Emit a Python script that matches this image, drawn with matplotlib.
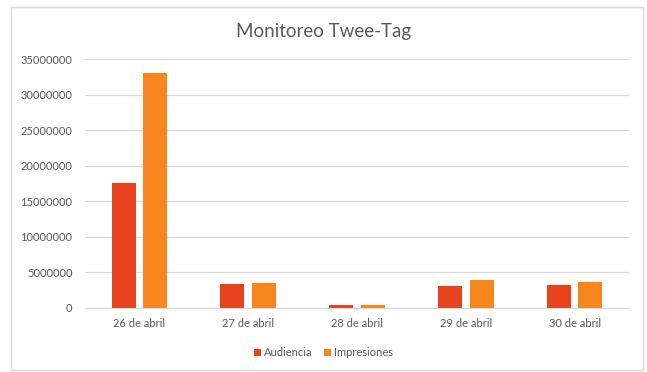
import numpy as np
import matplotlib.pyplot as plt
from matplotlib.patches import Rectangle

plt.rcParams['font.family'] = ['Lato', 'DejaVu Sans']

# data
dias = ['26 de abril', '27 de abril', '28 de abril', '29 de abril', '30 de abril']
audiencia = [17600000, 3400000, 400000, 3100000, 3200000]
impresiones = [33000000, 3500000, 400000, 3950000, 3650000]

c_aud = '#E8431F'
c_imp = '#F7861E'
gris = '#595959'

fig = plt.figure(figsize=(6.47, 3.72), dpi=100)
fig.patch.set_facecolor('white')

# light frame around the chart
fig.patches.append(Rectangle((11/647, 1-370/372), 632/647, 363/372,
                             transform=fig.transFigure, fill=False,
                             edgecolor='#d9d9d9', linewidth=1))

ax = fig.add_axes([85/647, 1-308/372, 544/647, 249/372])
x = np.arange(len(dias))
w = 0.22
ax.bar(x - 0.145, audiencia, width=w, color=c_aud, label='Audiencia', zorder=3)
ax.bar(x + 0.145, impresiones, width=w, color=c_imp, label='Impresiones', zorder=3)

ax.set_xlim(-0.5, len(dias) - 0.5)
ax.set_ylim(0, 35000000)
ax.set_yticks(np.arange(0, 35000001, 5000000))
ax.set_yticklabels([str(v) for v in range(0, 35000001, 5000000)])
ax.set_xticks(x)
ax.set_xticklabels(dias)
ax.tick_params(colors=gris, labelsize=8, length=0, pad=9)
ax.tick_params(axis='x', pad=7)
ax.yaxis.grid(True, color='#d9d9d9', linewidth=0.9, zorder=0)
ax.set_axisbelow(True)
for s in ['top', 'right', 'left']:
    ax.spines[s].set_visible(False)
ax.spines['bottom'].set_color('#d9d9d9')

fig.text(0.5, 1-31/372, 'Monitoreo Twee-Tag', ha='center', va='center',
         fontsize=13.5, color=gris)

fig.legend(loc='center', bbox_to_anchor=(0.5, 1-353/372), ncol=2, frameon=False,
           fontsize=8, handlelength=0.6, handleheight=0.6, handletextpad=0.3,
           columnspacing=1.0, labelcolor=gris)

fig.savefig('out.png', dpi=100)
